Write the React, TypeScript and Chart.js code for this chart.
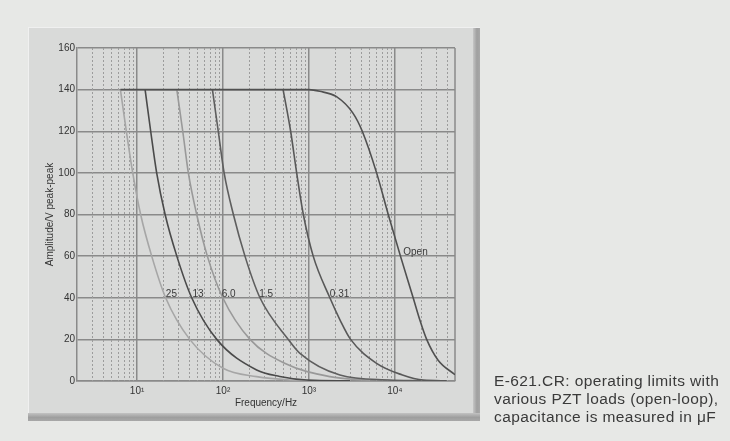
import React, { useEffect, useRef } from "react";
import { Chart, registerables } from "chart.js";

Chart.register(...registerables);

// ---- Axis ticks ----
const yMin = 0;
const yMax = 160;
const yStep = 20;
const xMin = 2;
const xMax = 50000;
const xMajorTicks = [10, 100, 1000, 10000];
const xMajorLabels = ["10\u00B9", "10\u00B2", "10\u00B3", "10\u2074"];
const xMinorLines = [
  3, 4, 5, 6, 7, 8, 9,
  20, 30, 40, 50, 60, 70, 80, 90,
  200, 300, 400, 500, 600, 700, 800, 900,
  2000, 3000, 4000, 5000, 6000, 7000, 8000, 9000,
  20000, 30000, 40000,
];

// ---- Series (frequency in Hz, amplitude in V peak-peak) ----
const load25Freq = [6.4, 7.5, 8.9, 11.0, 14.8, 21.5, 41, 100, 246, 600, 1500];
const load25Amp = [140, 120, 100, 80, 60, 40, 20, 6.1, 2.1, 0.5, 0.1];

const load13Freq = [12.4, 14.4, 16.9, 21.2, 29, 43.2, 84.5, 246, 457, 940, 3000];
const load13Amp = [140, 120, 100, 80, 60, 40, 20, 5.3, 2.2, 0.5, 0.1];

const load6Freq = [29, 34, 39.5, 49.4, 65.7, 99.3, 206, 520, 1750, 5000];
const load6Amp = [140, 120, 100, 80, 60, 40, 20, 8.5, 2.1, 0.3];

const load15Freq = [75.3, 88, 103, 132, 180, 269, 574, 785, 2290, 8700, 20000];
const load15Amp = [140, 120, 100, 80, 60, 40, 20, 13.3, 2.9, 0.5, 0.1];

const load031Freq = [500, 612, 719, 860, 1120, 1750, 2300, 3050, 6120, 12000, 21400, 40000];
const load031Amp = [140, 120, 100, 80, 60, 40, 29.3, 20, 8.5, 3.0, 0.4, 0.1];

const openFreq = [6.4, 1000, 1330, 2090, 3260, 4170, 6120, 8360, 11600, 16300, 19500, 23400, 31800, 50000];
const openAmp = [140, 140, 139.2, 136.6, 128.6, 120, 100, 80, 60, 40, 29.3, 20, 10, 3];

// ---- Curve labels ----
const curveLabelTexts = ["25", "13", "6.0", "1.5", "0.31", "Open"];
const curveLabelFreqs = [21.6, 44, 96.6, 264, 1750, 12500];
const curveLabelAmps = [41.5, 41.5, 41.5, 41.5, 41.5, 61.8];

const FONT = "'Liberation Sans', Arial, Helvetica, sans-serif";
const GRID = "#8a8a8a";
const TEXT = "#333333";

function pts(f: number[], a: number[]) {
  return f.map((x, i) => ({ x, y: a[i] }));
}

export default function App() {
  const ref = useRef<HTMLCanvasElement>(null);

  useEffect(() => {
    const canvas = ref.current;
    if (!canvas) return;

    const minorGrid = {
      id: "minorGrid",
      beforeDatasetsDraw(chart: any) {
        const { ctx, chartArea, scales } = chart;
        const xs = scales.x;
        ctx.save();
        ctx.strokeStyle = "#9c9c9c";
        ctx.lineWidth = 1;
        ctx.setLineDash([2, 2]);
        for (const v of xMinorLines) {
          const px = Math.round(xs.getPixelForValue(v)) + 0.5;
          ctx.beginPath();
          ctx.moveTo(px, chartArea.top);
          ctx.lineTo(px, chartArea.bottom);
          ctx.stroke();
        }
        ctx.setLineDash([]);
        ctx.strokeStyle = GRID;
        ctx.lineWidth = 1.5;
        ctx.beginPath();
        ctx.moveTo(chartArea.right, chartArea.top);
        ctx.lineTo(chartArea.right, chartArea.bottom);
        ctx.stroke();
        ctx.restore();
      },
    };

    const curveLabels = {
      id: "curveLabels",
      afterDatasetsDraw(chart: any) {
        const { ctx, scales } = chart;
        ctx.save();
        ctx.fillStyle = "#3a3a3a";
        ctx.font = "10px " + FONT;
        ctx.textAlign = "left";
        ctx.textBaseline = "middle";
        curveLabelTexts.forEach((t, i) => {
          const x = scales.x.getPixelForValue(curveLabelFreqs[i]);
          const y = scales.y.getPixelForValue(curveLabelAmps[i]);
          ctx.fillText(t, x, y);
        });
        ctx.restore();
      },
    };

    const ds = (label: string, f: number[], a: number[], color: string, w = 1.6) => ({
      label,
      data: pts(f, a),
      borderColor: color,
      borderWidth: w,
      pointRadius: 0,
      fill: false,
      cubicInterpolationMode: "monotone" as const,
    });

    const chart = new Chart(canvas, {
      type: "line",
      data: {
        datasets: [
          ds("Open", openFreq, openAmp, "#505050"),
          ds("0.31", load031Freq, load031Amp, "#585858"),
          ds("1.5", load15Freq, load15Amp, "#5e5e5e"),
          ds("13", load13Freq, load13Amp, "#4a4a4a"),
          ds("6.0", load6Freq, load6Amp, "#999999"),
          ds("25", load25Freq, load25Amp, "#a6a6a6"),
        ],
      },
      options: {
        responsive: false,
        animation: false,
        devicePixelRatio: 1,
        layout: { padding: { left: 0, top: 48, right: 275, bottom: 0 } },
        plugins: {
          legend: { display: false },
          tooltip: { enabled: false },
        },
        scales: {
          x: {
            type: "logarithmic",
            min: xMin,
            max: xMax,
            afterBuildTicks: (s: any) => {
              s.ticks = xMajorTicks.map((v) => ({ value: v }));
            },
            afterFit: (s: any) => {
              s.height = 60;
            },
            grid: { color: GRID, lineWidth: 1.5, drawTicks: false },
            border: { display: true, color: GRID, width: 1.5 },
            ticks: {
              autoSkip: false,
              maxRotation: 0,
              padding: 4,
              color: TEXT,
              font: { family: FONT, size: 10 },
              callback: (_v: any, i: number) => xMajorLabels[i],
            },
            title: {
              display: true,
              text: "Frequency/Hz",
              color: TEXT,
              font: { family: FONT, size: 10 },
              padding: { top: 0, bottom: 32 },
            },
          },
          y: {
            type: "linear",
            min: yMin,
            max: yMax,
            afterFit: (s: any) => {
              s.width = 77;
            },
            grid: { color: GRID, lineWidth: 1.5, drawTicks: false },
            border: { display: true, color: GRID, width: 1.5 },
            ticks: {
              stepSize: yStep,
              padding: 2,
              color: TEXT,
              font: { family: FONT, size: 10 },
            },
            title: {
              display: true,
              text: "Amplitude/V peak-peak",
              color: TEXT,
              font: { family: FONT, size: 10 },
              padding: { top: 44, bottom: 0 },
            },
          },
        },
      } as any,
      plugins: [minorGrid, curveLabels],
    });

    return () => chart.destroy();
  }, []);

  return (
    <div
      style={{
        position: "absolute",
        left: 0,
        top: 0,
        width: 730,
        height: 441,
        background: "#e7e8e6",
        overflow: "hidden",
        fontFamily: FONT,
      }}
    >
      <div
        style={{
          position: "absolute",
          left: 28,
          top: 27,
          width: 452,
          height: 394,
          boxSizing: "border-box",
          background: "#d9dad9",
          borderTop: "1px solid #f0f0f0",
          borderLeft: "1px solid #f0f0f0",
        }}
      />
      <div
        style={{
          position: "absolute",
          left: 473,
          top: 28,
          width: 7,
          height: 393,
          background: "linear-gradient(to right, #c6c6c6, #a0a0a0 55%, #a8a8a8)",
        }}
      />
      <div
        style={{
          position: "absolute",
          left: 28,
          top: 413,
          width: 452,
          height: 8,
          background: "linear-gradient(to bottom, #c2c2c2, #9e9e9e 55%, #a8a8a8)",
        }}
      />
      <canvas
        ref={ref}
        width={730}
        height={441}
        style={{ position: "absolute", left: 0, top: 0, width: 730, height: 441 }}
      />
      <div
        style={{
          position: "absolute",
          left: 494,
          top: 372,
          fontSize: 15.5,
          lineHeight: "18px",
          letterSpacing: "0.4px",
          color: "#3a3a3a",
          whiteSpace: "nowrap",
        }}
      >
        E-621.CR: operating limits with
        <br />
        various PZT loads (open-loop),
        <br />
        capacitance is measured in μF
      </div>
    </div>
  );
}
